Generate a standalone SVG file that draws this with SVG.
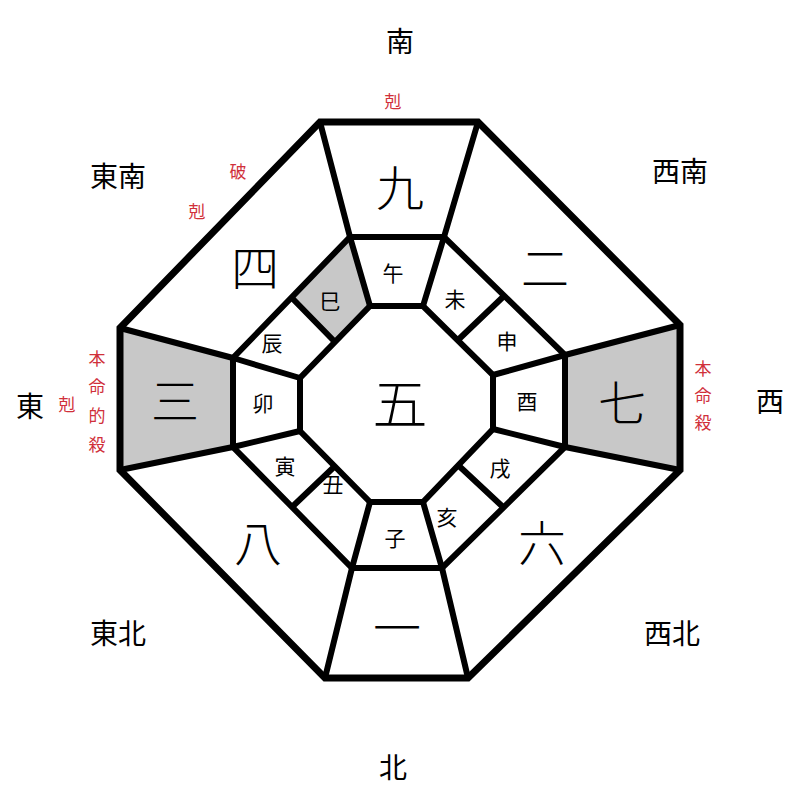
<svg xmlns="http://www.w3.org/2000/svg" width="800" height="800" viewBox="0 0 800 800">
<style>
.l{stroke:#000;stroke-width:6;fill:none;stroke-linejoin:miter}
.t{font-family:"Noto Sans CJK JP","Noto Sans CJK SC",serif;text-anchor:middle;dominant-baseline:central;fill:#000}
.big{font-size:48px;font-weight:300}
.br{font-size:21px}
.dir{font-size:28px}
.r{font-size:17px;fill:#d0303a}
</style>
<rect width="800" height="800" fill="#fff"/>
<g id="shade">
<polygon points="120,328 233,358 233,447 120,470" fill="#c8c8c8"/>
<polygon points="680,325 565,355 565,447 680,470" fill="#c8c8c8"/>
<polygon points="350,237 370,306 335,342 291,297" fill="#c8c8c8"/>
</g>
<g id="connectors">
<polygon class="l" style="stroke-width:7" points="320,122 478,122 680,325 680,470 468,678 325,678 120,470 120,328"/>
<polygon class="l" points="350,237 444,237 565,355 565,447 442,568 352,568 233,447 233,358"/>
<polygon class="l" points="370,306 423,306 493,375 493,429 423,502 370,502 300,431 300,378"/>
<path class="l" d="M320,122L350,237M478,122L444,237M680,325L565,355M680,470L565,447M468,678L442,568M325,678L352,568M120,470L233,447M120,328L233,358"/>
<path class="l" d="M350,237L370,306M444,237L423,306M565,355L493,375M565,447L493,429M442,568L423,502M352,568L370,502M233,447L300,431M233,358L300,378"/>
<path class="l" d="M291,297L335,342M504,296L458,340M503,507L458,465M292,507L335,466"/>
</g>
<g id="stars">
<text class="t big" x="400" y="185">九</text>
<text class="t big" x="545" y="265">二</text>
<text class="t big" x="622" y="400">七</text>
<text class="t big" x="542" y="540">六</text>
<text class="t big" x="397" y="625">一</text>
<text class="t big" x="258" y="540">八</text>
<text class="t big" x="175" y="398">三</text>
<text class="t big" x="255" y="265">四</text>
<text class="t big" x="400" y="400" style="font-size:55px">五</text>
</g>
<g id="branches">
<text class="t br" x="393" y="272">午</text>
<text class="t br" x="455" y="298">未</text>
<text class="t br" x="507" y="340">申</text>
<text class="t br" x="527" y="400">酉</text>
<text class="t br" x="500" y="467">戌</text>
<text class="t br" x="447" y="516">亥</text>
<text class="t br" x="395" y="537">子</text>
<text class="t br" x="333" y="483">丑</text>
<text class="t br" x="285" y="465">寅</text>
<text class="t br" x="263" y="402">卯</text>
<text class="t br" x="272" y="342">辰</text>
<text class="t br" x="330" y="300">巳</text>
</g>
<g id="directions">
<text class="t dir" x="400" y="40">南</text>
<text class="t dir" x="118" y="175">東南</text>
<text class="t dir" x="680" y="170">西南</text>
<text class="t dir" x="770" y="400">西</text>
<text class="t dir" x="30" y="405">東</text>
<text class="t dir" x="118" y="632">東北</text>
<text class="t dir" x="672" y="632">西北</text>
<text class="t dir" x="393" y="766">北</text>
</g>
<g id="notes">
<text class="t r" x="393" y="100">剋</text>
<text class="t r" x="238" y="170">破</text>
<text class="t r" x="197" y="210">剋</text>
<text class="t r" x="67" y="403">剋</text>
<text class="t r" x="97" y="357">本</text>
<text class="t r" x="97" y="385">命</text>
<text class="t r" x="97" y="414">的</text>
<text class="t r" x="97" y="443">殺</text>
<text class="t r" x="703" y="367">本</text>
<text class="t r" x="703" y="394">命</text>
<text class="t r" x="703" y="421">殺</text>
</g>
</svg>
